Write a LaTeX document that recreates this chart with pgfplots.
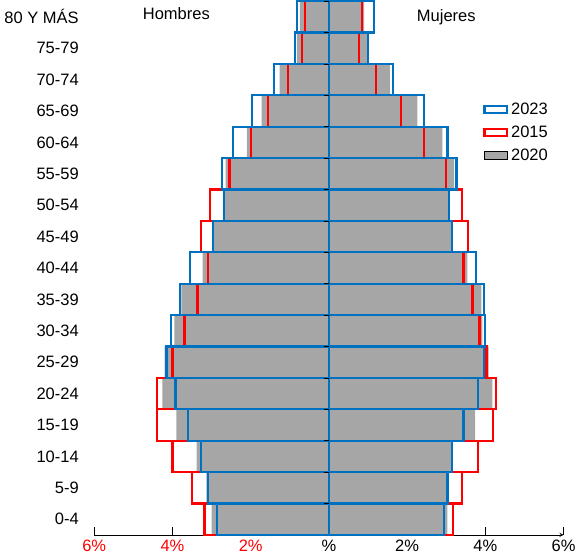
\documentclass[border=0pt]{standalone}
\usepackage{pgfplots}
\pgfplotsset{compat=1.18}
\usepackage{fontspec}
\setmainfont{Liberation Sans}
\definecolor{bblue}{RGB}{0,112,192}
\newcommand{\f}{\fontsize{12.3}{14}\selectfont}
\begin{document}
\begin{tikzpicture}
\begin{axis}[scale only axis, width=350pt, height=398pt,
 xmin=-6, xmax=6, ymin=-0.5, ymax=16.5,
 axis x line=bottom, axis y line=left, y axis line style={draw=none},
 xtick={-6,-4,-2,0,2,4,6},
 xticklabels={\textcolor{red}{6\%},\textcolor{red}{4\%},\textcolor{red}{2\%},\%,2\%,4\%,6\%},
 ytick={0,...,16},
 yticklabels={0-4,5-9,10-14,15-19,20-24,25-29,30-34,35-39,40-44,45-49,50-54,55-59,60-64,65-69,70-74,75-79,80 Y MÁS},
 ytick style={draw=none}, y tick label style={font=\f, xshift=-2pt},
 x tick label style={font=\f}, x tick style={black}, xtick align=inside, major tick length=6pt,
 clip=false, bar width=1, xbar, bar shift=0pt,
 legend style={draw=none, at={(0.82,0.82)}, anchor=north west, font=\f, row sep=3pt},
 legend cell align=left]
\addplot[fill=black!35, draw=none, forget plot] coordinates {(-3.0,0)(-3.13,1)(-3.38,2)(-3.9,3)(-4.26,4)(-4.2,5)(-3.95,6)(-3.77,7)(-3.23,8)(-2.95,9)(-2.69,10)(-2.64,11)(-2.1,12)(-1.72,13)(-1.26,14)(-0.82,15)(-0.74,16)};
\addplot[fill=black!35, draw=none, forget plot] coordinates {(3.03,0)(3.03,1)(3.15,2)(3.74,3)(4.18,4)(4.08,5)(3.92,6)(3.9,7)(3.54,8)(3.15,9)(3.08,10)(3.2,11)(2.9,12)(2.26,13)(1.56,14)(0.97,15)(0.9,16)};
\addplot[draw=red, line width=1.6pt, fill=none, forget plot] coordinates {(-3.18,0)(-3.5,1)(-4.0,2)(-4.4,3)(-4.4,4)(-4.0,5)(-3.69,6)(-3.36,7)(-3.08,8)(-3.28,9)(-3.05,10)(-2.54,11)(-2.0,12)(-1.56,13)(-1.05,14)(-0.69,15)(-0.62,16)};
\addplot[draw=red, line width=1.6pt, fill=none, forget plot] coordinates {(3.18,0)(3.4,1)(3.82,2)(4.2,3)(4.28,4)(4.03,5)(3.85,6)(3.67,7)(3.44,8)(3.56,9)(3.4,10)(3.0,11)(2.44,12)(1.85,13)(1.2,14)(0.77,15)(0.85,16)};
\addplot[draw=bblue, line width=1.6pt, fill=none, forget plot] coordinates {(-2.87,0)(-3.08,1)(-3.28,2)(-3.6,3)(-3.92,4)(-4.15,5)(-4.03,6)(-3.8,7)(-3.56,8)(-2.97,9)(-2.69,10)(-2.74,11)(-2.46,12)(-1.97,13)(-1.41,14)(-0.87,15)(-0.82,16)};
\addplot[draw=bblue, line width=1.6pt, fill=none, forget plot] coordinates {(2.95,0)(3.03,1)(3.15,2)(3.44,3)(3.82,4)(3.97,5)(4.0,6)(3.97,7)(3.77,8)(3.15,9)(3.08,10)(3.26,11)(3.03,12)(2.44,13)(1.64,14)(1.0,15)(1.15,16)};
\addlegendimage{area legend, draw=bblue, line width=1.6pt, fill=white}
\addlegendentry{2023}
\addlegendimage{area legend, draw=red, line width=1.6pt, fill=white}
\addlegendentry{2015}
\addlegendimage{area legend, draw=none, fill=black!35}
\addlegendentry{2020}
\pgfplotsinvokeforeach{0,...,16}{\draw (axis cs:-0.12,#1+0.5) -- (axis cs:0,#1+0.5);}
\node[font=\f] at (axis cs:-3.9,16.1) {Hombres};
\node[font=\f] at (axis cs:3.0,16.0) {Mujeres};
\end{axis}
\end{tikzpicture}
\end{document}
